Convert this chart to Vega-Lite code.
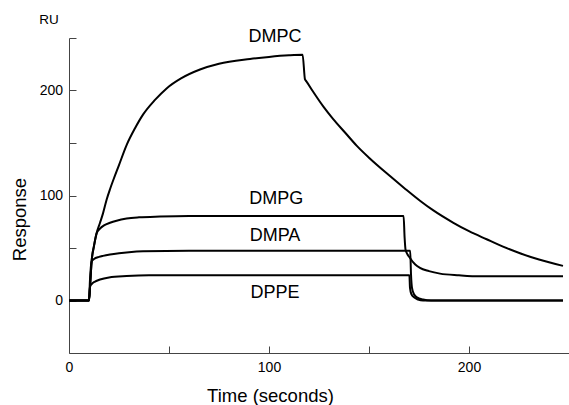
{
  "$schema": "https://vega.github.io/schema/vega-lite/v6.json",
  "width": 500,
  "height": 315,
  "autosize": {"type": "none"},
  "padding": {"left": 69, "top": 38, "right": 0, "bottom": 52},
  "config": {"view": {"stroke": null}, "font": "Liberation Sans"},
  "datasets": {
    "curves": [
      {"lipid": "DMPC", "t": 0, "r": 0}, {"lipid": "DMPC", "t": 10, "r": 0}, {"lipid": "DMPC", "t": 10.5, "r": 12}, {"lipid": "DMPC", "t": 11.3, "r": 37}, {"lipid": "DMPC", "t": 12.5, "r": 52}, {"lipid": "DMPC", "t": 13.8, "r": 64}, {"lipid": "DMPC", "t": 15.5, "r": 74}, {"lipid": "DMPC", "t": 17, "r": 83}, {"lipid": "DMPC", "t": 18.8, "r": 96}, {"lipid": "DMPC", "t": 20.5, "r": 106}, {"lipid": "DMPC", "t": 22.2, "r": 115}, {"lipid": "DMPC", "t": 25, "r": 129}, {"lipid": "DMPC", "t": 28.8, "r": 148}, {"lipid": "DMPC", "t": 33, "r": 164}, {"lipid": "DMPC", "t": 37, "r": 177}, {"lipid": "DMPC", "t": 43, "r": 191}, {"lipid": "DMPC", "t": 48.8, "r": 202}, {"lipid": "DMPC", "t": 56, "r": 211.5}, {"lipid": "DMPC", "t": 65.5, "r": 220}, {"lipid": "DMPC", "t": 75, "r": 225.5}, {"lipid": "DMPC", "t": 90.5, "r": 230}, {"lipid": "DMPC", "t": 100, "r": 232}, {"lipid": "DMPC", "t": 110, "r": 233.5}, {"lipid": "DMPC", "t": 116.8, "r": 234}, {"lipid": "DMPC", "t": 118, "r": 210.5}, {"lipid": "DMPC", "t": 118.6, "r": 209}, {"lipid": "DMPC", "t": 122, "r": 199}, {"lipid": "DMPC", "t": 127.2, "r": 184.6}, {"lipid": "DMPC", "t": 132, "r": 173}, {"lipid": "DMPC", "t": 138, "r": 160}, {"lipid": "DMPC", "t": 143.8, "r": 147.5}, {"lipid": "DMPC", "t": 150, "r": 136}, {"lipid": "DMPC", "t": 160.5, "r": 118.5}, {"lipid": "DMPC", "t": 168, "r": 106.5}, {"lipid": "DMPC", "t": 175.5, "r": 95}, {"lipid": "DMPC", "t": 182, "r": 86}, {"lipid": "DMPC", "t": 192.2, "r": 74}, {"lipid": "DMPC", "t": 200, "r": 66}, {"lipid": "DMPC", "t": 208.8, "r": 58.3}, {"lipid": "DMPC", "t": 217, "r": 51.3}, {"lipid": "DMPC", "t": 225.5, "r": 45}, {"lipid": "DMPC", "t": 235, "r": 39}, {"lipid": "DMPC", "t": 247, "r": 33},
      {"lipid": "DMPG", "t": 0, "r": 0}, {"lipid": "DMPG", "t": 10, "r": 0}, {"lipid": "DMPG", "t": 10.5, "r": 12}, {"lipid": "DMPG", "t": 11.3, "r": 37}, {"lipid": "DMPG", "t": 12.5, "r": 52}, {"lipid": "DMPG", "t": 13.8, "r": 64}, {"lipid": "DMPG", "t": 15.5, "r": 68.5}, {"lipid": "DMPG", "t": 17.5, "r": 71.5}, {"lipid": "DMPG", "t": 20.5, "r": 74}, {"lipid": "DMPG", "t": 23.8, "r": 76}, {"lipid": "DMPG", "t": 28.8, "r": 78}, {"lipid": "DMPG", "t": 35, "r": 79.2}, {"lipid": "DMPG", "t": 45.5, "r": 80}, {"lipid": "DMPG", "t": 60, "r": 80.5}, {"lipid": "DMPG", "t": 100, "r": 80.5}, {"lipid": "DMPG", "t": 167.3, "r": 80.5}, {"lipid": "DMPG", "t": 167.8, "r": 60}, {"lipid": "DMPG", "t": 168.3, "r": 48}, {"lipid": "DMPG", "t": 170.5, "r": 40.5}, {"lipid": "DMPG", "t": 173, "r": 34.5}, {"lipid": "DMPG", "t": 175.5, "r": 31}, {"lipid": "DMPG", "t": 180, "r": 28}, {"lipid": "DMPG", "t": 185.5, "r": 25.6}, {"lipid": "DMPG", "t": 195, "r": 24}, {"lipid": "DMPG", "t": 205.5, "r": 23}, {"lipid": "DMPG", "t": 247, "r": 23},
      {"lipid": "DMPA", "t": 0, "r": 0}, {"lipid": "DMPA", "t": 10, "r": 0}, {"lipid": "DMPA", "t": 10.5, "r": 20}, {"lipid": "DMPA", "t": 11.3, "r": 37}, {"lipid": "DMPA", "t": 12.5, "r": 39.5}, {"lipid": "DMPA", "t": 15, "r": 41.5}, {"lipid": "DMPA", "t": 17, "r": 42.5}, {"lipid": "DMPA", "t": 20.5, "r": 43.8}, {"lipid": "DMPA", "t": 25, "r": 45}, {"lipid": "DMPA", "t": 30, "r": 46}, {"lipid": "DMPA", "t": 37, "r": 46.8}, {"lipid": "DMPA", "t": 60, "r": 47.3}, {"lipid": "DMPA", "t": 170.6, "r": 47.3}, {"lipid": "DMPA", "t": 171, "r": 25}, {"lipid": "DMPA", "t": 171.5, "r": 12}, {"lipid": "DMPA", "t": 172.5, "r": 6}, {"lipid": "DMPA", "t": 174, "r": 3}, {"lipid": "DMPA", "t": 177, "r": 1}, {"lipid": "DMPA", "t": 181, "r": 0}, {"lipid": "DMPA", "t": 247, "r": 0},
      {"lipid": "DPPE", "t": 0, "r": 0}, {"lipid": "DPPE", "t": 10, "r": 0}, {"lipid": "DPPE", "t": 10.5, "r": 13.5}, {"lipid": "DPPE", "t": 11.5, "r": 16}, {"lipid": "DPPE", "t": 13, "r": 18}, {"lipid": "DPPE", "t": 15.5, "r": 20}, {"lipid": "DPPE", "t": 20, "r": 22}, {"lipid": "DPPE", "t": 28.8, "r": 23.3}, {"lipid": "DPPE", "t": 40, "r": 24}, {"lipid": "DPPE", "t": 170.2, "r": 24}, {"lipid": "DPPE", "t": 170.5, "r": 12}, {"lipid": "DPPE", "t": 171.2, "r": 6}, {"lipid": "DPPE", "t": 172.5, "r": 3}, {"lipid": "DPPE", "t": 174.5, "r": 1}, {"lipid": "DPPE", "t": 177, "r": 0}, {"lipid": "DPPE", "t": 247, "r": 0}
    ],
    "labels": [
      {"lipid": "DMPC", "t": 103, "r": 246.5},
      {"lipid": "DMPG", "t": 103.6, "r": 91.9},
      {"lipid": "DMPA", "t": 103, "r": 57},
      {"lipid": "DPPE", "t": 103, "r": 2.1}
    ],
    "unit": [
      {"lipid": "RU", "t": -10, "r": 263}
    ]
  },
  "layer": [
    {
      "data": {"name": "curves"},
      "mark": {"type": "line", "interpolate": "monotone", "strokeWidth": 2, "clip": false},
      "encoding": {
        "x": {"field": "t", "type": "quantitative", "scale": {"domain": [0, 250], "nice": false},
          "axis": {"values": [0, 50, 100, 150, 200], "labelExpr": "datum.value % 100 === 0 ? datum.label : ''", "labelFlush": false, "tickSize": -7, "labelPadding": 14, "labelFontSize": 14, "labelColor": "#000", "grid": false, "domainColor": "#444", "tickColor": "#444", "title": "Time (seconds)", "titleFontSize": 18.5, "titleFontWeight": "normal", "titleColor": "#000", "titleX": 201, "titleY": 48.7, "titleBaseline": "alphabetic", "titleAlign": "center"}},
        "y": {"field": "r", "type": "quantitative", "scale": {"domain": [-50, 250], "nice": false},
          "axis": {"values": [0, 50, 100, 150, 200, 250], "labelExpr": "datum.value % 100 === 0 ? datum.label : ''", "labelFlush": false, "tickSize": -7, "labelPadding": 13.5, "labelFontSize": 14, "labelColor": "#000", "grid": false, "domainColor": "#444", "tickColor": "#444", "title": "Response", "titleFontSize": 18.5, "titleFontWeight": "normal", "titleColor": "#000", "titleX": -44, "titleY": 181, "titleAngle": -90, "titleBaseline": "alphabetic", "titleAlign": "center"}},
        "color": {"field": "lipid", "type": "nominal", "scale": {"range": ["#000000"]}, "legend": null}
      }
    },
    {
      "data": {"name": "labels"},
      "mark": {"type": "text", "fontSize": 18, "align": "center", "baseline": "alphabetic", "color": "#000"},
      "encoding": {
        "x": {"field": "t", "type": "quantitative"},
        "y": {"field": "r", "type": "quantitative"},
        "text": {"field": "lipid"}
      }
    },
    {
      "data": {"name": "unit"},
      "mark": {"type": "text", "fontSize": 13.5, "align": "center", "baseline": "alphabetic", "color": "#000"},
      "encoding": {
        "x": {"field": "t", "type": "quantitative"},
        "y": {"field": "r", "type": "quantitative"},
        "text": {"field": "lipid"}
      }
    }
  ]
}
